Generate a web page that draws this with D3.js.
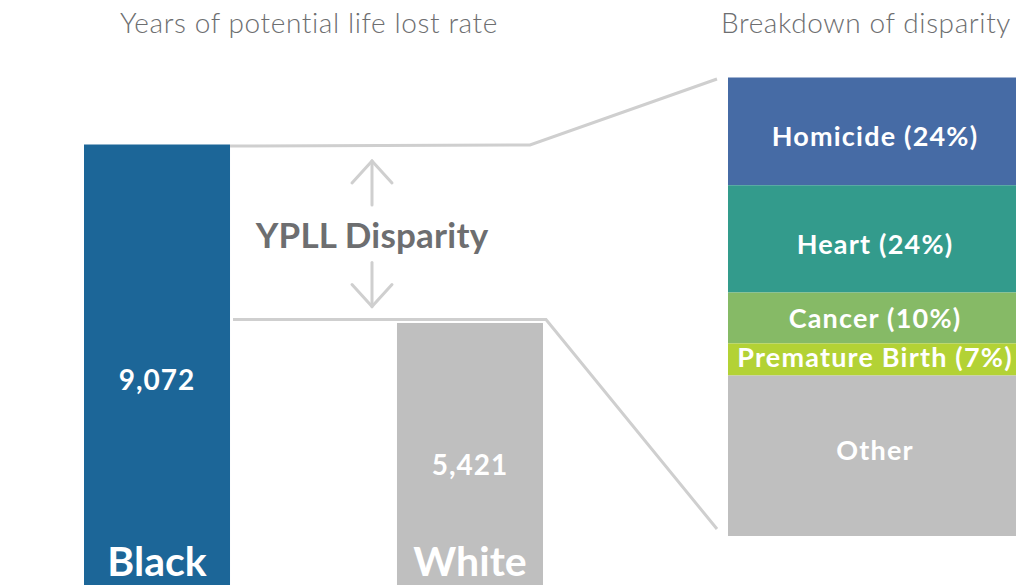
<!DOCTYPE html>
<html>
<head>
<meta charset="utf-8">
<script src="https://cdn.jsdelivr.net/npm/d3@7"></script>
<style>
  html, body { margin: 0; padding: 0; background: #fff; }
  svg { display: block; font-family: Lato, "Noto Sans", sans-serif; }
</style>
</head>
<body>
<svg id="chart" width="1016" height="585"></svg>
<script>
// data
const races = ["Black", "White"];
const ypllRates = [9072, 5421];
const causes = ["Homicide", "Heart", "Cancer", "Premature Birth", "Other"];
const causeShares = [23.5, 23.4, 11.1, 7.0, 35.0];
const causeLabels = ["Homicide (24%)", "Heart (24%)", "Cancer (10%)", "Premature Birth (7%)", "Other"];

const svg = d3.select("#chart");
const fmt = d3.format(",");
const GREY_TXT = "#6d6e70";
const LINE = "#cfcfcf";

const raceColor = { Black: "#1c6698", White: "#bfbfbf" };
const causeColor = ["#466ba5", "#339b8c", "#86ba66", "#b3d235", "#bfbfbf"];
const labelNudge = [5, 5, 0, -2, -5];

// left chart scales
const x = d3.scaleBand().domain(races).range([84, 543]).paddingInner(0.5335);
const y = d3.scaleLinear().domain([0, 9072]).range([588, 144.5]);

const left = races.map((r, i) => ({ race: r, value: ypllRates[i] }));

svg.selectAll(".bar").data(left).join("rect")
  .attr("class", "bar")
  .attr("x", d => x(d.race))
  .attr("y", d => y(d.value))
  .attr("width", x.bandwidth())
  .attr("height", d => y(0) - y(d.value))
  .attr("fill", d => raceColor[d.race]);

svg.selectAll(".val").data(left).join("text")
  .attr("class", "val")
  .attr("x", d => x(d.race) + x.bandwidth() / 2)
  .attr("y", d => d.race === "Black" ? 390 : 475)
  .attr("text-anchor", "middle")
  .style("font-size", "28px").style("font-weight", 700).style("fill", "#fff")
  .style("letter-spacing", "1px")
  .text(d => fmt(d.value));

svg.selectAll(".race").data(left).join("text")
  .attr("class", "race")
  .attr("x", d => x(d.race) + x.bandwidth() / 2)
  .attr("y", 576)
  .attr("text-anchor", "middle")
  .style("font-size", "41px").style("font-weight", 700).style("fill", "#fff")
  .text(d => d.race);

// right stacked bar, first cause at the top
const total = d3.sum(causeShares);
const y2 = d3.scaleLinear().domain([0, total]).range([536, 77.5]);
const x2 = 728, w2 = 294;
let run = total;
const segs = causes.map((c, i) => {
  const s = { cause: c, label: causeLabels[i], hi: run, lo: run - causeShares[i], color: causeColor[i], nudge: labelNudge[i] };
  run -= causeShares[i];
  return s;
});

svg.selectAll(".seg").data(segs).join("rect")
  .attr("class", "seg")
  .attr("x", x2)
  .attr("y", d => y2(d.hi))
  .attr("width", w2)
  .attr("height", d => y2(d.lo) - y2(d.hi))
  .attr("fill", d => d.color);

svg.selectAll(".segl").data(segs).join("text")
  .attr("class", "segl")
  .attr("x", x2 + w2 / 2)
  .attr("y", d => (y2(d.hi) + y2(d.lo)) / 2 + d.nudge)
  .attr("dy", "0.36em")
  .attr("text-anchor", "middle")
  .style("font-size", "27px").style("font-weight", 700).style("fill", "#fff")
  .style("letter-spacing", "1.2px")
  .text(d => d.label);

// connector lines
const topY = y(ypllRates[0]) + 1.5;
const botY = y(ypllRates[1]) - 3.5;
const conn = d3.line();
svg.append("path")
  .attr("d", conn([[230, topY], [530, topY - 1], [717, y2(total) + 1.5]]))
  .attr("fill", "none").attr("stroke", LINE).attr("stroke-width", 3);
svg.append("path")
  .attr("d", conn([[233, botY], [546, botY], [717, y2(0) - 7]]))
  .attr("fill", "none").attr("stroke", LINE).attr("stroke-width", 3);

// arrows
const ax = 372;
const arrows = svg.append("g").attr("fill", "none").attr("stroke", LINE)
  .attr("stroke-width", 3).attr("stroke-linecap", "round");
arrows.append("path").attr("d", conn([[ax, topY + 15], [ax, topY + 59]]));
arrows.append("path").attr("d", conn([[ax - 20, topY + 37], [ax, topY + 15], [ax + 20, topY + 37]]));
arrows.append("path").attr("d", conn([[ax, botY - 57], [ax, botY - 13]]));
arrows.append("path").attr("d", conn([[ax - 20, botY - 35], [ax, botY - 13], [ax + 20, botY - 35]]));

svg.append("text")
  .attr("x", ax).attr("y", 248)
  .attr("text-anchor", "middle")
  .style("font-size", "35px").style("font-weight", 700).style("fill", GREY_TXT)
  .style("letter-spacing", "0.2px")
  .text("YPLL Disparity");

// titles
const titles = svg.append("g").attr("text-anchor", "middle")
  .style("font-size", "28px").style("font-weight", 300).style("fill", GREY_TXT)
  .style("letter-spacing", "0.6px");
titles.append("text").attr("x", 309).attr("y", 33).text("Years of potential life lost rate");
titles.append("text").attr("x", 866).attr("y", 33).text("Breakdown of disparity");
</script>
</body>
</html>
